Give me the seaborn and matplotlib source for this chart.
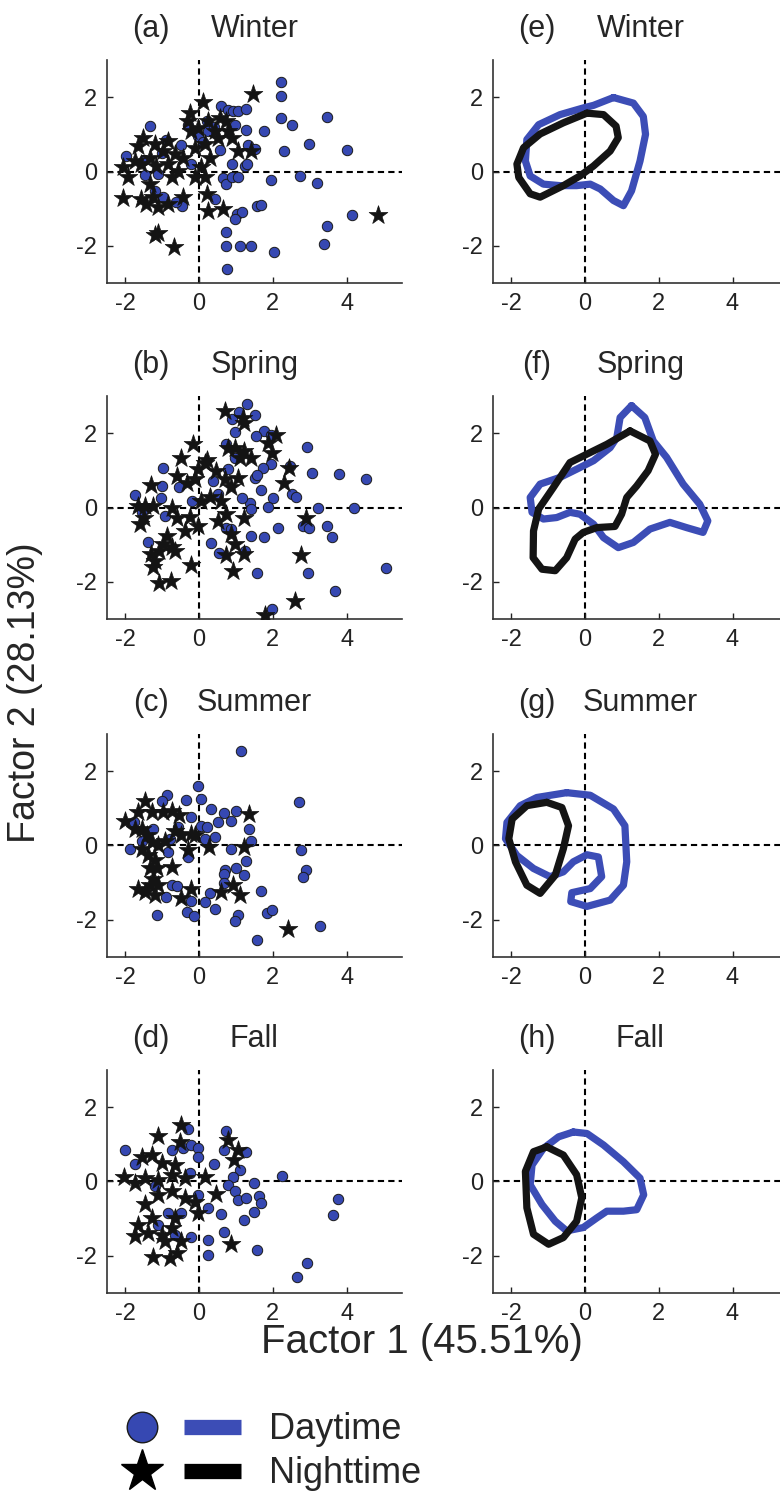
import numpy as np
import matplotlib
matplotlib.use("Agg")
import matplotlib.pyplot as plt
from matplotlib.lines import Line2D
from matplotlib.legend_handler import HandlerTuple
import seaborn as sns

seasons = ["Winter", "Spring", "Summer", "Fall"]
scatter_letters = ["(a)", "(b)", "(c)", "(d)"]
contour_letters = ["(e)", "(f)", "(g)", "(h)"]
x_ticks = [-2, 0, 2, 4]
y_ticks = [-2, 0, 2]

# factor scores (Factor 1, Factor 2)
winter_day = [(2.23, 2.40), (2.23, 2.04), (2.23, 1.44), (2.52, 1.24), (3.47, 1.46), (1.76, 1.10),
              (1.27, 1.11), (2.99, 0.73), (2.31, 0.55), (4.02, 0.57), (1.95, -0.23), (2.73, -0.12),
              (3.21, -0.31), (4.15, -1.17), (3.48, -1.47), (3.38, -1.94), (2.04, -2.17), (0.74, -1.63),
              (0.74, -2.01), (1.12, -2.01), (1.42, -2.01), (0.76, -2.61), (1.04, -1.14), (1.15, -1.09),
              (0.97, -1.27), (1.57, -0.92), (1.67, -0.90), (0.43, -0.74), (-0.46, -0.92), (-0.62, -0.83),
              (0.65, -0.18), (0.74, -0.34), (0.88, -0.16), (1.06, -0.14), (0.88, 0.20), (1.24, 0.15),
              (1.31, 0.21), (1.33, 0.70), (1.51, 0.60), (0.56, 0.59), (0.59, 1.75), (0.79, 1.66),
              (0.92, 1.64), (1.06, 1.64), (1.27, 1.68), (0.97, 1.26), (0.20, 1.35), (-1.34, 1.22),
              (-1.99, 0.42), (-1.48, -0.09), (-1.11, -0.07), (-0.89, 0.86), (-0.30, 1.26), (-0.03, 0.95),
              (0.24, 1.08), (-0.21, 0.20), (-1.20, -0.52), (-0.98, -0.69), (-1.00, 0.50), (-0.50, 0.70),
              (0.10, 0.80), (0.40, 1.20), (-1.50, 0.30)]
winter_night = [(1.47, 2.08), (0.11, 1.88), (-0.25, 1.57), (-0.30, 1.35), (-1.52, 0.91), (-1.66, 0.68),
                (-1.20, 0.73), (-0.98, 0.55), (-0.84, 0.82), (-0.66, 0.46), (-2.06, 0.11), (-1.93, -0.16),
                (-1.57, 0.20), (-1.34, 0.37), (-1.16, 0.15), (-0.84, 0.20), (-0.75, -0.16), (-0.43, 0.37),
                (-0.12, 0.64), (-0.03, 1.17), (-0.21, 1.08), (0.24, 1.35), (0.43, 1.08), (0.56, 1.44),
                (0.74, 1.35), (0.79, 1.08), (0.88, 0.91), (1.06, 0.55), (1.42, 0.55), (0.15, 0.73),
                (0.29, 0.37), (0.06, 0.11), (-0.12, -0.16), (0.15, -0.16), (0.20, -0.60), (0.24, -1.05),
                (0.65, -1.00), (-2.06, -0.71), (-1.57, -0.74), (-1.43, -0.87), (-1.25, -0.69), (-1.11, -0.96),
                (-0.84, -0.87), (-0.43, -0.69), (-1.20, -1.72), (-1.11, -1.65), (-0.68, -2.03), (4.86, -1.16),
                (-1.34, -0.34), (-1.75, 0.28), (-0.57, 0.02), (0.52, 0.91)]

spring_day = [(1.30, 2.79), (1.08, 2.57), (1.52, 2.50), (0.88, 2.37), (0.97, 2.04), (1.77, 2.05),
              (1.55, 1.92), (1.96, 1.95), (2.92, 1.63), (0.74, 1.71), (1.96, 1.18), (1.74, 1.05),
              (1.51, 0.80), (1.58, 0.87), (3.05, 0.94), (3.80, 0.91), (4.52, 0.76), (2.46, 1.12),
              (1.67, 0.46), (2.51, 0.36), (2.63, 0.29), (2.01, 0.25), (1.86, 0.02), (1.38, 0.13),
              (1.40, -0.03), (1.15, 0.25), (3.23, -0.02), (4.21, -0.02), (2.14, -0.54), (2.82, -0.51),
              (2.98, -0.55), (3.48, -0.49), (3.61, -0.78), (1.42, -0.76), (1.75, -0.79), (0.31, -0.96),
              (0.53, -1.22), (1.24, -1.16), (1.56, -1.76), (2.95, -1.76), (3.69, -2.25), (5.06, -1.63),
              (1.98, -2.72), (-1.74, 0.33), (-0.97, 1.05), (-1.02, 0.58), (-1.04, 0.25), (-0.93, -0.22),
              (-1.38, -0.94), (-1.56, -0.13), (-0.55, 0.55), (-0.19, 0.18), (0.38, 0.71), (0.51, 0.36),
              (0.78, 1.03), (0.74, -0.54), (0.87, -0.58), (0.96, 1.34)]
spring_night = [(0.69, 2.59), (1.19, 2.41), (1.23, 2.28), (2.09, 1.96), (-0.16, 1.71), (-0.50, 1.32),
                (0.20, 1.29), (0.78, 1.61), (0.96, 1.61), (1.23, 1.52), (1.10, 1.34), (1.41, 1.34),
                (1.86, 1.74), (1.99, 1.47), (2.43, 1.05), (2.29, 0.67), (-1.31, 0.60), (-0.61, 0.85),
                (-0.34, 0.67), (-0.12, 0.76), (-0.03, 1.03), (0.15, 1.21), (0.47, 0.98), (0.69, 0.76),
                (0.87, 0.54), (1.05, 0.80), (0.29, 0.27), (0.06, 0.18), (0.60, 0.18), (-1.65, 0.04),
                (-1.47, 0.04), (-1.24, 0.04), (-0.75, 0.00), (-1.60, -0.45), (-1.51, -0.27), (-0.61, -0.29),
                (-0.25, -0.25), (-0.03, -0.49), (-0.39, -0.63), (0.51, -0.36), (0.74, -0.18), (0.87, -0.71),
                (0.96, -0.98), (1.23, -0.27), (1.23, -1.25), (0.74, -1.29), (0.92, -1.70), (-0.88, -0.76),
                (-0.97, -0.98), (-0.65, -1.16), (-0.75, -1.07), (-1.32, -1.25), (-1.19, -1.43), (-1.24, -1.61),
                (-1.10, -1.16), (-1.10, -2.04), (-0.76, -1.98), (-0.23, -1.54), (2.90, -0.27), (2.77, -1.29),
                (2.60, -2.52), (1.78, -2.90)]

summer_day = [(1.14, 2.53), (2.72, 1.16), (-0.03, 1.60), (0.04, 1.26), (-0.86, 1.35), (-1.02, 1.20),
              (-0.36, 1.23), (0.31, 0.98), (0.68, 0.87), (1.01, 0.93), (0.86, 0.67), (0.51, 0.64),
              (-0.23, 0.77), (0.06, 0.53), (0.20, 0.49), (1.35, 0.44), (1.41, 0.13), (0.42, 0.24),
              (0.15, 0.16), (0.87, -0.09), (2.77, -0.13), (1.28, -0.42), (1.01, -0.60), (0.69, -0.65),
              (0.68, -0.78), (1.23, -0.80), (2.90, -0.67), (2.81, -0.86), (0.68, -1.02), (1.67, -1.23),
              (0.29, -1.29), (0.15, -1.51), (-0.23, -1.49), (0.42, -1.72), (-0.32, -1.78), (-0.14, -1.91),
              (1.05, -1.88), (0.98, -2.03), (1.85, -1.82), (1.97, -1.75), (1.57, -2.55), (3.27, -2.18),
              (-1.14, -1.88), (-0.73, -1.07), (-0.61, -1.08), (-0.91, -1.40), (-1.87, -0.09), (-1.78, 0.62),
              (-0.84, -0.18), (-0.30, -0.31), (-0.79, 0.16), (-1.24, 0.44), (-1.56, 0.13), (-0.57, 0.49)]
summer_night = [(-1.47, 1.20), (-2.01, 0.67), (-1.65, 0.89), (-1.29, 0.89), (-0.97, 0.89), (-0.75, 0.93),
                (-0.55, 0.82), (-1.74, 0.44), (-1.56, 0.44), (-1.42, 0.27), (-1.29, 0.09), (-1.56, -0.09),
                (-1.38, -0.27), (-1.20, -0.40), (-1.33, -0.62), (-1.15, -0.62), (-0.75, -0.58), (-0.66, 0.40),
                (-0.48, 0.27), (-0.21, 0.31), (-0.12, 0.27), (-0.30, -0.13), (0.27, -0.04), (1.23, -0.04),
                (1.34, 0.84), (-1.65, -1.16), (-1.47, -1.24), (-1.20, -1.33), (-1.33, -1.07), (-1.11, -1.07),
                (-1.24, -0.89), (-0.48, -1.42), (-0.23, -1.16), (0.60, -1.24), (0.92, -1.07), (1.12, -1.32),
                (2.42, -2.25), (-1.11, 0.00), (-0.93, 0.13)]

fall_day = [(-2.01, 0.85), (-1.74, 0.47), (-0.30, 1.40), (0.74, 1.37), (0.68, 0.85), (1.28, 0.79),
            (0.41, 0.46), (1.10, 0.31), (0.92, 0.13), (0.77, -0.09), (1.48, -0.03), (2.25, 0.15),
            (0.98, -0.25), (1.06, -0.49), (1.26, -0.45), (1.62, -0.38), (1.68, -0.58), (1.49, -0.83),
            (1.23, -1.03), (0.60, -0.88), (0.24, -0.71), (0.68, -1.37), (0.24, -1.58), (0.24, -1.99),
            (-0.21, -1.49), (1.58, -1.85), (3.78, -0.47), (3.62, -0.91), (2.93, -2.19), (2.66, -2.57),
            (-0.75, 0.85), (-0.43, 0.89), (-0.21, 0.98), (-0.03, 0.89), (-0.03, 0.67), (-0.25, 0.22),
            (-1.20, -0.13), (-0.84, -0.85), (-0.48, -0.85), (-0.03, -0.36), (-1.11, -1.16), (-0.66, -1.43)]
fall_night = [(-0.48, 1.52), (-1.11, 1.21), (-0.52, 1.07), (0.78, 1.12), (1.05, 0.85), (0.95, 0.58),
              (-2.05, 0.13), (-1.56, 0.67), (-1.29, 0.71), (-1.02, 0.49), (-0.66, 0.45), (-1.74, -0.04),
              (-1.47, 0.09), (-1.11, 0.04), (-0.75, 0.18), (-0.39, 0.09), (0.15, 0.13), (0.47, -0.34),
              (-1.47, -0.62), (-1.11, -0.36), (-0.75, -0.27), (-0.39, -0.45), (-0.12, -0.54), (-1.65, -1.16),
              (-1.74, -1.47), (-1.38, -1.38), (-1.02, -1.43), (-0.75, -1.25), (-0.48, -1.61), (-0.93, -1.61),
              (-1.24, -2.04), (-0.79, -2.05), (-0.61, -1.92), (-0.03, -0.85), (0.87, -1.67), (-1.29, -0.98),
              (-0.66, -0.98)]

# density contour outlines (closed paths) (e)-(h)
winter_day_contour = [(0.77, 1.99), (1.31, 1.84), (1.58, 1.48), (1.64, 1.00), (1.49, 0.28), (1.26, -0.52),
                      (1.04, -0.92), (0.77, -0.78), (0.41, -0.47), (0.14, -0.34), (-0.23, -0.38),
                      (-0.68, -0.38), (-1.13, -0.34), (-1.49, -0.12), (-1.62, 0.28), (-1.58, 0.86),
                      (-1.26, 1.26), (-0.68, 1.53), (-0.05, 1.71), (0.23, 1.78)]
winter_night_contour = [(0.05, 1.57), (0.50, 1.53), (0.84, 1.22), (0.90, 0.91), (0.68, 0.55), (0.23, 0.15),
                        (-0.14, -0.12), (-0.59, -0.38), (-1.22, -0.69), (-1.49, -0.60), (-1.80, -0.16),
                        (-1.85, 0.20), (-1.67, 0.64), (-1.22, 1.01), (-0.59, 1.31)]
spring_day_contour = [(1.26, 2.74), (1.62, 2.42), (1.85, 1.79), (2.21, 1.35), (2.66, 0.63), (3.11, 0.09),
                      (3.33, -0.36), (3.20, -0.67), (2.75, -0.54), (2.30, -0.40), (1.76, -0.58),
                      (1.31, -0.94), (0.90, -1.08), (0.50, -0.81), (0.23, -0.45), (-0.14, -0.18),
                      (-0.41, -0.13), (-0.77, -0.27), (-1.13, -0.31), (-1.44, -0.13), (-1.49, 0.27),
                      (-1.22, 0.63), (-0.68, 0.81), (-0.23, 1.03), (0.23, 1.26), (0.68, 1.61),
                      (0.86, 1.88), (0.95, 2.42)]
spring_night_contour = [(1.22, 2.06), (1.76, 1.79), (1.91, 1.43), (1.71, 0.99), (1.40, 0.58), (1.13, 0.27),
                        (0.99, -0.18), (0.81, -0.51), (0.32, -0.54), (-0.05, -0.67), (-0.27, -0.85),
                        (-0.50, -1.35), (-0.81, -1.70), (-1.17, -1.66), (-1.41, -1.35), (-1.40, -0.63),
                        (-1.26, -0.04), (-0.86, 0.54), (-0.41, 1.21), (0.14, 1.48), (0.59, 1.70)]
summer_day_contour = [(-0.50, 1.42), (0.14, 1.35), (0.77, 0.98), (1.08, 0.53), (1.13, -0.44), (1.04, -1.07),
                      (0.68, -1.47), (0.05, -1.64), (-0.39, -1.51), (-0.36, -1.27), (0.14, -1.16),
                      (0.45, -0.84), (0.36, -0.31), (0.05, -0.25), (-0.32, -0.44), (-0.59, -0.71),
                      (-0.95, -0.84), (-1.40, -0.62), (-1.85, -0.27), (-2.16, 0.18), (-2.12, 0.62),
                      (-1.76, 1.07), (-1.31, 1.29)]
summer_night_contour = [(-1.04, 1.16), (-0.63, 1.02), (-0.45, 0.53), (-0.59, -0.09), (-0.81, -0.80),
                        (-1.22, -1.29), (-1.58, -1.07), (-1.89, -0.44), (-2.07, 0.18), (-1.98, 0.71),
                        (-1.58, 1.07)]
fall_day_contour = [(-0.32, 1.33), (0.05, 1.29), (0.50, 0.98), (1.04, 0.53), (1.49, 0.09), (1.59, -0.36),
                    (1.40, -0.76), (1.04, -0.80), (0.59, -0.80), (0.32, -0.98), (-0.05, -1.24),
                    (-0.50, -1.33), (-0.81, -1.07), (-1.17, -0.62), (-1.49, -0.09), (-1.44, 0.44),
                    (-1.13, 0.89), (-0.72, 1.20)]
fall_night_contour = [(-1.04, 0.93), (-0.59, 0.71), (-0.23, 0.18), (-0.09, -0.44), (-0.23, -1.07),
                      (-0.59, -1.51), (-0.99, -1.69), (-1.40, -1.42), (-1.58, -0.71), (-1.62, 0.27),
                      (-1.40, 0.80)]

day_points = [winter_day, spring_day, summer_day, fall_day]
night_points = [winter_night, spring_night, summer_night, fall_night]
day_contours = [winter_day_contour, spring_day_contour, summer_day_contour, fall_day_contour]
night_contours = [winter_night_contour, spring_night_contour, summer_night_contour, fall_night_contour]

DOT_BLUE = "#3648b2"
LINE_BLUE = "#3c4db6"
NIGHT = "#141414"

sns.set_style("ticks")
plt.rcParams["font.family"] = ["Liberation Sans", "DejaVu Sans"]
plt.rcParams["axes.unicode_minus"] = False

fig = plt.figure(figsize=(7.8, 14.92), dpi=100)
row_bottoms = [0.8103, 0.5851, 0.3586, 0.1334]
col_lefts = [0.1372, 0.632]
ax_w, ax_h = 0.378, 0.1495


def style_axes(ax, letter, season):
    ax.set_xlim(-2.5, 5.5)
    ax.set_ylim(-3, 3)
    ax.set_xticks(x_ticks)
    ax.set_yticks(y_ticks)
    ax.set_xlabel("")
    ax.set_ylabel("")
    dash = (0, (3, 2))
    ax.axhline(0, color="black", lw=1.5, ls=dash, zorder=0.5)
    ax.axvline(0, color="black", lw=1.5, ls=dash, zorder=0.5)
    for side in ["top", "right"]:
        ax.spines[side].set_visible(False)
    for side in ["left", "bottom"]:
        ax.spines[side].set_linewidth(1.2)
        ax.spines[side].set_color("#333333")
    ax.tick_params(direction="in", length=4, width=1, labelsize=17, pad=7, colors="#222222")
    ax.text(0.149, 1.14, letter, transform=ax.transAxes, ha="center", va="center", fontsize=22)
    ax.text(0.5, 1.14, season, transform=ax.transAxes, ha="center", va="center", fontsize=22)


def closed(path):
    pts = np.array(path + path[:1])
    return pts[:, 0], pts[:, 1]


for i, season in enumerate(seasons):
    ax = fig.add_axes([col_lefts[0], row_bottoms[i], ax_w, ax_h])
    day = np.array(day_points[i])
    night = np.array(night_points[i])
    sns.scatterplot(x=day[:, 0], y=day[:, 1], ax=ax, marker="o", s=56, color=DOT_BLUE,
                    edgecolor="#1a1a1a", linewidth=0.7, zorder=2)
    sns.scatterplot(x=night[:, 0], y=night[:, 1], ax=ax, marker="*", s=200, color=NIGHT,
                    edgecolor=NIGHT, linewidth=0.5, zorder=3)
    style_axes(ax, scatter_letters[i], season)

    ax = fig.add_axes([col_lefts[1], row_bottoms[i], ax_w, ax_h])
    dx, dy = closed(day_contours[i])
    nx, ny = closed(night_contours[i])
    sns.lineplot(x=dx, y=dy, ax=ax, sort=False, estimator=None, color=LINE_BLUE, lw=5.2,
                 solid_joinstyle="round", solid_capstyle="round", zorder=2)
    sns.lineplot(x=nx, y=ny, ax=ax, sort=False, estimator=None, color=NIGHT, lw=5.2,
                 solid_joinstyle="round", solid_capstyle="round", zorder=3)
    style_axes(ax, contour_letters[i], season)

fig.text(0.541, 0.1005, "Factor 1 (45.51%)", ha="center", va="center", fontsize=29)
fig.text(0.032, 0.536, "Factor 2 (28.13%)", rotation=90, ha="center", va="center", fontsize=27)

day_dot = Line2D([], [], ls="none", marker="o", ms=22, mfc=DOT_BLUE, mec="#1a1a1a", mew=1)
day_bar = Line2D([], [], color=LINE_BLUE, lw=11, solid_capstyle="butt")
night_star = Line2D([], [], ls="none", marker="*", ms=32, color="black")
night_bar = Line2D([], [], color="black", lw=11, solid_capstyle="butt")
fig.legend([(day_dot, day_bar), (night_star, night_bar)], ["Daytime", "Nighttime"],
           handler_map={tuple: HandlerTuple(ndivide=None, pad=0.36)},
           loc="upper left", bbox_to_anchor=(0.145, 0.0535), frameon=False, fontsize=26,
           handlelength=3.54, handletextpad=0.78, borderpad=0, borderaxespad=0, labelspacing=0.25)

fig.savefig("out.png", dpi=100)
